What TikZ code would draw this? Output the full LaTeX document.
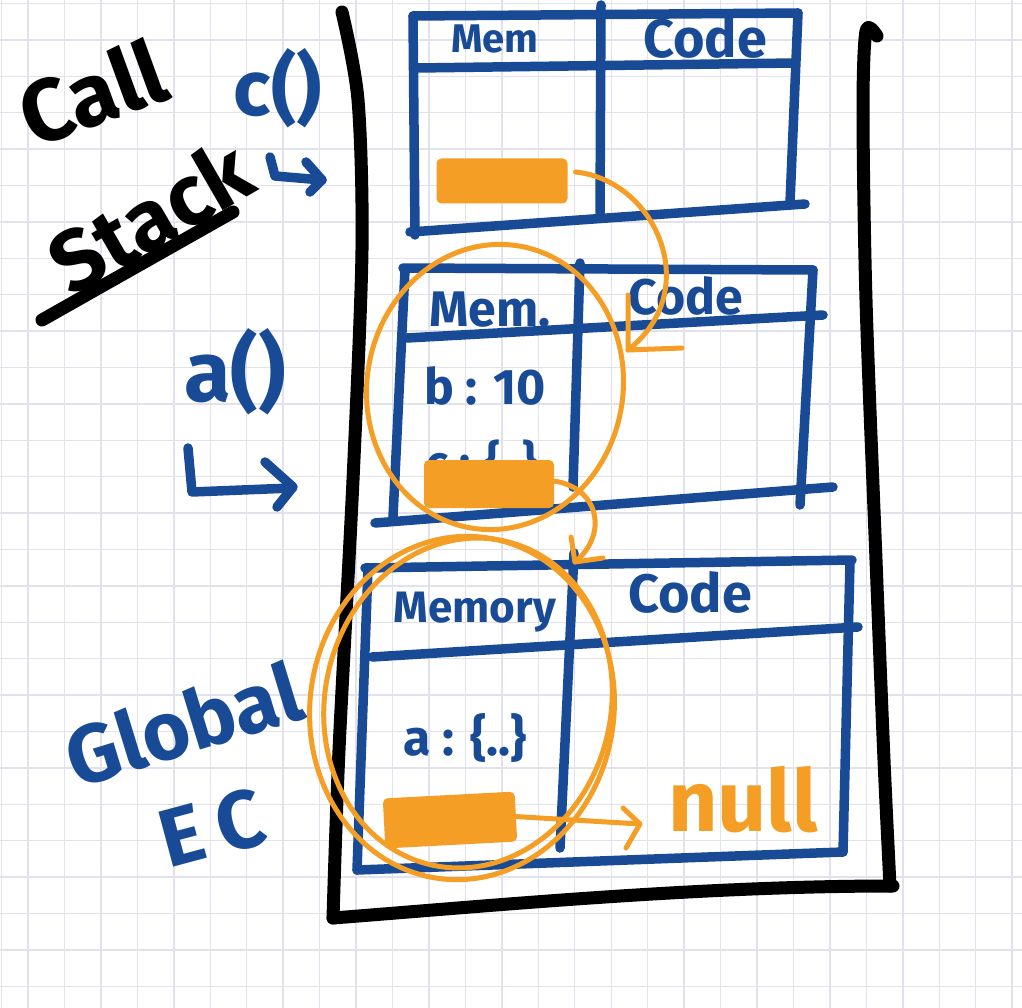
\documentclass[tikz,border=0pt]{standalone}
\usepackage{fontspec}
\setmainfont{Fira Sans}
\usetikzlibrary{calc}
\definecolor{penblue}{RGB}{24,74,150}
\definecolor{penorange}{RGB}{244,158,37}
\definecolor{gridgray}{RGB}{226,226,236}
\tikzset{
  gridline/.style={draw=gridgray, line width=1.4pt},
  blueline/.style={draw=penblue, line width=9.5pt, line cap=round, line join=round},
  blackline/.style={draw=black, line width=13pt, line cap=round, line join=round},
  orangeline/.style={draw=penorange, line width=5pt, line cap=round, line join=round},
  orect/.style={fill=penorange, draw=penorange, line width=2pt, rounded corners=4pt, inner sep=0pt},
  bluetext/.style={text=penblue, inner sep=0pt, font=\bfseries},
  blacktext/.style={text=black, inner sep=0pt, font=\bfseries},
}
\newcommand{\fsz}[1]{\fontsize{#1}{#1}\selectfont}
\begin{document}
\begin{tikzpicture}[x=1pt,y=-1pt]
\useasboundingbox (0,0) rectangle (1022,1008);
\fill[white] (0,0) rectangle (1022,1008);
% grid
\foreach \i in {-1,...,27} \draw[gridline] ({28+36.45*\i},0) -- ({28+36.45*\i},1008);
\foreach \j in {0,...,27} \draw[gridline] (0,{3.5+36.4*\j}) -- (1022,{3.5+36.4*\j});
\draw[gridline] (1.5,0) -- (1.5,1008);

% black stack container
\draw[blackline] plot[smooth] coordinates {(342,12) (358,100) (362,250) (353,480) (339,750) (333,918)};
\draw[blackline] (333,918) .. controls (500,905) and (700,886) .. (893,886);
\draw[blackline] plot[smooth] coordinates {(877,36) (866,31) (863,110) (866,300) (876,560) (884,760) (890,886)};

% top frame c()
\draw[blueline] (413,16) -- (798,13);
\draw[blueline] (413,16) -- (415,235);
\draw[blueline] (410,232) -- (805,204);
\draw[blueline] (798,13) -- (790,203);
\draw[blueline] (417,68) -- (795,63);
\draw[blueline] (601,5) -- (600,213);
\node[bluetext, anchor=base] (tmem) at (495,53) {\fsz{40}Mem};
\node[bluetext, anchor=base] (tcode) at (705,58) {\fsz{54}Code};

% middle frame a()
\draw[blueline] (403,268) -- (813,270);
\draw[blueline] (405,270) -- (393,517);
\draw[blueline] (375,523) -- (833,487);
\draw[blueline] (813,270) -- (800,505);
\draw[blueline] (407,338) -- (823,315);
\draw[blueline] (580,263) -- (573,487);
\node[bluetext, anchor=base] (mmem) at (490,326) {\fsz{50}Mem.};
\node[bluetext, anchor=base] (mcode) at (686,314) {\fsz{50}Code};
\node[bluetext, anchor=base] (mb) at (485,404) {\fsz{50}b : 10};
\node[bluetext, anchor=base] (mc) at (482,478) {\fsz{46}c : \{\ \ \}};

% global frame
\draw[blueline] (365,568) -- (852,560);
\draw[blueline] (368,568) -- (357,870);
\draw[blueline] (357,870) -- (843,852);
\draw[blueline] (850,562) -- (843,852);
\draw[blueline] (372,657) -- (858,627);
\draw[blueline] (574,553) -- (560,848);
\node[bluetext, anchor=base] (gmem) at (475,622) {\fsz{44}Memory};
\node[bluetext, anchor=base] (gcode) at (690,612) {\fsz{54}Code};
\node[bluetext, anchor=base] (ga) at (465,755) {\fsz{50}a : \{..\}};

% left labels
\node[blacktext, rotate=20] (call) at (92,92) {\fsz{88}Call};
\node[blacktext, rotate=30] (stack) at (150,216) {\fsz{86}Stack};
\draw[blackline] (42,320) -- (233,212);
\node[bluetext] (clab) at (278,88) {\fsz{78}c()};
\draw[blueline] (270,157) -- (275,176) -- (322,180);
\draw[blueline] (306,162) -- (322,180) -- (310,192);
\node[bluetext] (alab) at (235,372) {\fsz{85}a()};
\draw[blueline] (188,448) -- (192,492) -- (292,488);
\draw[blueline] (265,462) -- (293,487) -- (277,507);
\node[bluetext, rotate=17] (glob) at (183,724) {\fsz{82}Global};
\node[bluetext, rotate=15] (ec) at (212,828) {\fsz{82}E\kern14pt C};

% orange highlights
\node[orect, minimum width=129pt, minimum height=43pt] (rc) at (502,181) {};
\node[orect, minimum width=128pt, minimum height=46pt] (ra) at (489,484) {};
\node[orect, minimum width=130pt, minimum height=48pt, rotate=3] (rg) at (450,820) {};

\coordinate (tipA) at (628,350);
\draw[orangeline] ($(rc.east)+(8,-9)$) .. controls (655,180) and (705,290) .. (tipA);
\draw[orangeline] ($(tipA)+(0,-55)$) -- (tipA) -- ($(tipA)+(54,-2)$);

\draw[orangeline, rotate around={-10:(495,387)}] (495,387) ellipse [x radius=128, y radius=143];

\coordinate (tipB) at (575,562);
\draw[orangeline] ($(ra.east)+(0,-3)$) .. controls (600,488) and (608,535) .. (tipB);
\draw[orangeline] ($(tipB)+(-4,-25)$) -- (tipB) -- ($(tipB)+(28,-4)$);

\draw[orangeline, rotate around={-8:(462,708)}] (462,708) ellipse [x radius=152, y radius=172];
\draw[orangeline, rotate around={-13:(468,703)}] (468,703) ellipse [x radius=143, y radius=166];

\coordinate (tipC) at (640,824);
\draw[orangeline] (rg.east) -- (tipC);
\draw[orangeline] (623,808) -- (tipC) -- (626,848);
\node[text=penorange, inner sep=0pt, anchor=base, font=\bfseries] (null) at (743,831) {\fsz{86}null};
\end{tikzpicture}
\end{document}
